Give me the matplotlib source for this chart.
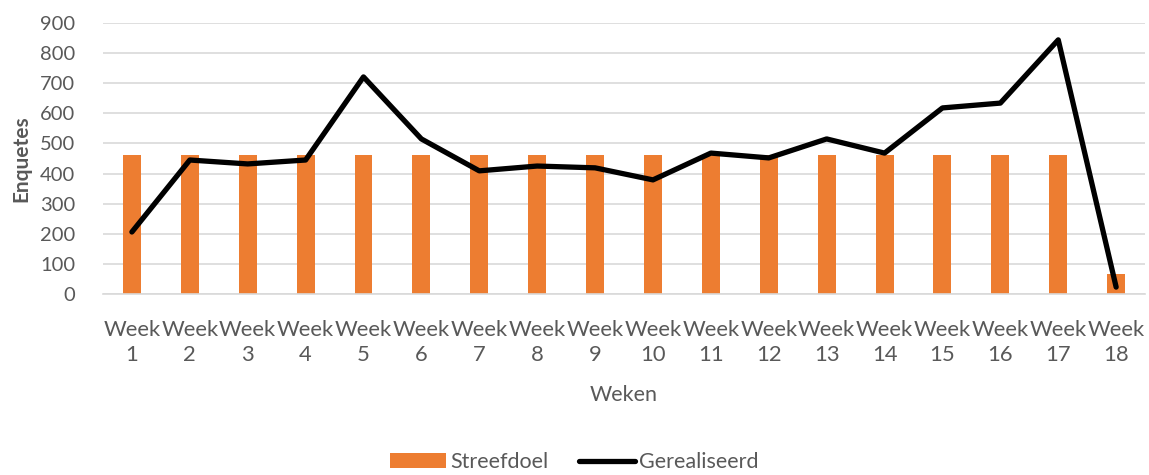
import numpy as np
import matplotlib.pyplot as plt

plt.rcParams['font.family'] = ['Lato', 'DejaVu Sans']

weeks = ['Week\n%d' % i for i in range(1, 19)]
streefdoel = [462] * 17 + [65]
gerealiseerd = [206, 445, 432, 445, 721, 515, 409, 425, 419, 379,
                468, 452, 515, 468, 618, 634, 844, 23]

grey = '#595959'
fig = plt.figure(figsize=(11.49, 4.75), dpi=100)
ax = fig.add_axes([0.0896, 0.381, 0.907, 0.5706])

x = np.arange(len(weeks))
bars = ax.bar(x, streefdoel, width=0.31, color='#ed7d31', label='Streefdoel', zorder=2)
line, = ax.plot(x, gerealiseerd, color='black', lw=3.8, label='Gerealiseerd', zorder=3,
                solid_joinstyle='round', solid_capstyle='round')

ax.set_xlim(-0.5, len(weeks) - 0.5)
ax.set_ylim(0, 900)
ax.set_yticks(range(0, 901, 100))
ax.grid(axis='y', color='#d9d9d9', lw=1.2, zorder=0)
ax.set_axisbelow(True)
for s in ['top', 'right', 'left']:
    ax.spines[s].set_visible(False)
ax.spines['bottom'].set_color('#d9d9d9')
ax.spines['bottom'].set_linewidth(1.2)
ax.tick_params(axis='y', length=0, colors=grey, labelsize=14.5, pad=20)
ax.tick_params(axis='x', length=0, colors=grey, labelsize=15.8, pad=19)
ax.set_xticks(x)
ax.set_xticklabels(weeks, linespacing=1.3)

ax.set_ylabel('Enquetes', color=grey, fontsize=15, fontweight='bold', labelpad=6)
ax.set_xlabel('Weken', color=grey, fontsize=15.5, labelpad=14)

leg = fig.legend([bars, line], ['Streefdoel', 'Gerealiseerd'],
                 loc='lower center', bbox_to_anchor=(0.5, -0.035), ncol=2,
                 frameon=False, fontsize=15.5, handlelength=2.6,
                 handletextpad=0.2, columnspacing=1.4)
for t in leg.get_texts():
    t.set_color(grey)

fig.savefig('out.png', dpi=100)
